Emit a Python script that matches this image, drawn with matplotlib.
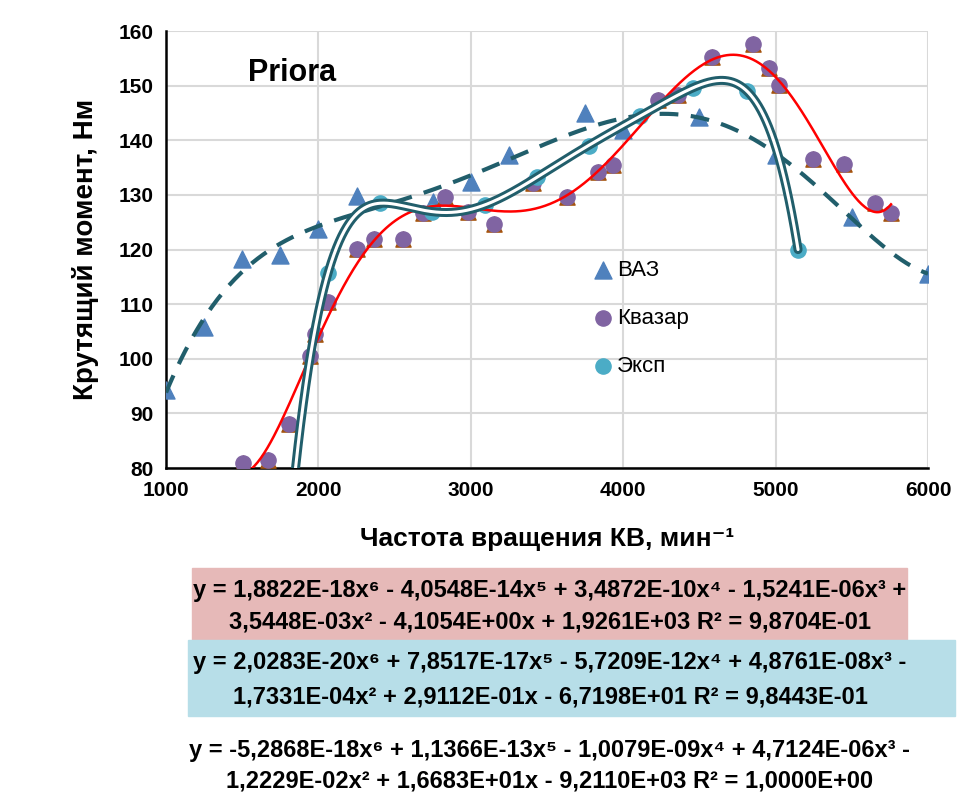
import numpy as np
import matplotlib.pyplot as plt

plt.rcParams['font.family'] = ['Liberation Sans', 'DejaVu Sans']

# ВАЗ (triangles)
vaz_x = [1000, 1250, 1500, 1750, 2000, 2250, 2750, 3000, 3250, 3750, 4000, 4500, 5000, 5500, 6000]
vaz_y = [94.3, 105.8, 118.3, 119.0, 123.8, 129.8, 128.7, 132.4, 137.3, 145.0, 141.9, 144.3, 137.3, 126.0, 115.5]

# Квазар (purple circles)
kv_x = [1505, 1669, 1807, 1945, 1978, 2063, 2253, 2365, 2555, 2686, 2830, 2982, 3152, 3408,
        3631, 3835, 3933, 4228, 4360, 4583, 4852, 4957, 5022, 5245, 5449, 5652, 5757]
kv_y = [80.9, 81.5, 88.0, 100.5, 104.5, 110.4, 120.1, 122.0, 122.0, 126.7, 129.6, 126.9, 124.7, 132.2,
        129.6, 134.2, 135.5, 147.4, 148.3, 155.3, 157.7, 153.3, 150.1, 136.6, 135.7, 128.5, 126.7]

# Эксп (cyan circles)
ex_x = [2063, 2404, 2745, 3093, 3434, 3776, 4110, 4458, 4812, 5147]
ex_y = [115.7, 128.5, 126.9, 128.2, 133.3, 139.0, 144.5, 149.6, 149.0, 120.0]

eq_red = ['y = 1,8822E-18x⁶ - 4,0548E-14x⁵ + 3,4872E-10x⁴ - 1,5241E-06x³ +',
          '3,5448E-03x² - 4,1054E+00x + 1,9261E+03 R² = 9,8704E-01']
eq_blue = ['y = 2,0283E-20x⁶ + 7,8517E-17x⁵ - 5,7209E-12x⁴ + 4,8761E-08x³ -',
           '1,7331E-04x² + 2,9112E-01x - 6,7198E+01 R² = 9,8443E-01']
eq_white = ['y = -5,2868E-18x⁶ + 1,1366E-13x⁵ - 1,0079E-09x⁴ + 4,7124E-06x³ -',
            '1,2229E-02x² + 1,6683E+01x - 9,2110E+03 R² = 1,0000E+00']


def trend(x, y, x0=None):
    p = np.polynomial.Polynomial.fit(x, y, 6)
    lo = min(x) if x0 is None else x0
    xs = np.linspace(lo, max(x), 400)
    return xs, p(xs)


fig = plt.figure(figsize=(9.62, 7.96), dpi=100)
ax = fig.add_axes([0.1726, 0.412, 0.7921, 0.549])

ax.scatter(vaz_x, vaz_y, marker='^', s=150, color='#4f81bd', zorder=3, label='ВАЗ')
ax.scatter(kv_x, kv_y, marker='^', s=120, color='#a5540f', zorder=3)
ax.scatter(kv_x, kv_y, marker='o', s=120, color='#8064a2', zorder=3, label='Квазар')
ax.scatter(ex_x, ex_y, marker='o', s=120, color='#4bacc6', zorder=3, label='Эксп')

xs, ys = trend(vaz_x, vaz_y)
ax.plot(xs, ys, color='#215e6b', lw=3, dashes=(4.5, 3), zorder=4)
xs, ys = trend(kv_x, kv_y)
ax.plot(xs, ys, color='#ff0000', lw=1.8, zorder=4)
xs, ys = trend(ex_x, ex_y, 1800)
ax.plot(xs, ys, color='#215e6b', lw=6.5, zorder=4, solid_capstyle='round')
ax.plot(xs, ys, color='white', lw=2.2, zorder=5, solid_capstyle='round')

ax.set_xlim(1000, 6000)
ax.set_ylim(80, 160)
ax.set_xticks(range(1000, 6001, 1000))
ax.set_yticks(range(80, 161, 10))
ax.grid(True, color='#d9d9d9', lw=1.5)
ax.set_axisbelow(True)
for s in ['top', 'right']:
    ax.spines[s].set_visible(False)
for s in ['left', 'bottom']:
    ax.spines[s].set_linewidth(1.8)
ax.tick_params(length=0, labelsize=15, pad=9)
for lab in ax.get_xticklabels() + ax.get_yticklabels():
    lab.set_fontweight('bold')

ax.set_xlabel('Частота вращения КВ, мин⁻¹', fontsize=19, fontweight='bold', labelpad=20)
ax.set_ylabel('Крутящий момент, Нм', fontsize=20, fontweight='bold', labelpad=14)
ax.text(0.108, 0.885, 'Priora', transform=ax.transAxes, fontsize=22, fontweight='bold')

ax.legend(loc='upper left', bbox_to_anchor=(0.532, 0.522), frameon=False, fontsize=16,
          handletextpad=0.15, handlelength=1.0, labelspacing=1.22)

fig.patches.append(plt.Rectangle((192 / 962, 1 - 640 / 796), 715 / 962, 72 / 796,
                                 transform=fig.transFigure, color='#e6b9b8', zorder=0))
fig.patches.append(plt.Rectangle((188 / 962, 1 - 716 / 796), 767 / 962, 76 / 796,
                                 transform=fig.transFigure, color='#b7dee8', zorder=0))
for lines, ys0 in [(eq_red, (590, 622)), (eq_blue, (663, 697)), (eq_white, (750, 781))]:
    for t, yy in zip(lines, ys0):
        fig.text(550 / 962, 1 - yy / 796, t, ha='center', va='center', fontsize=17, fontweight='bold')

fig.savefig('out.png', dpi=100)
